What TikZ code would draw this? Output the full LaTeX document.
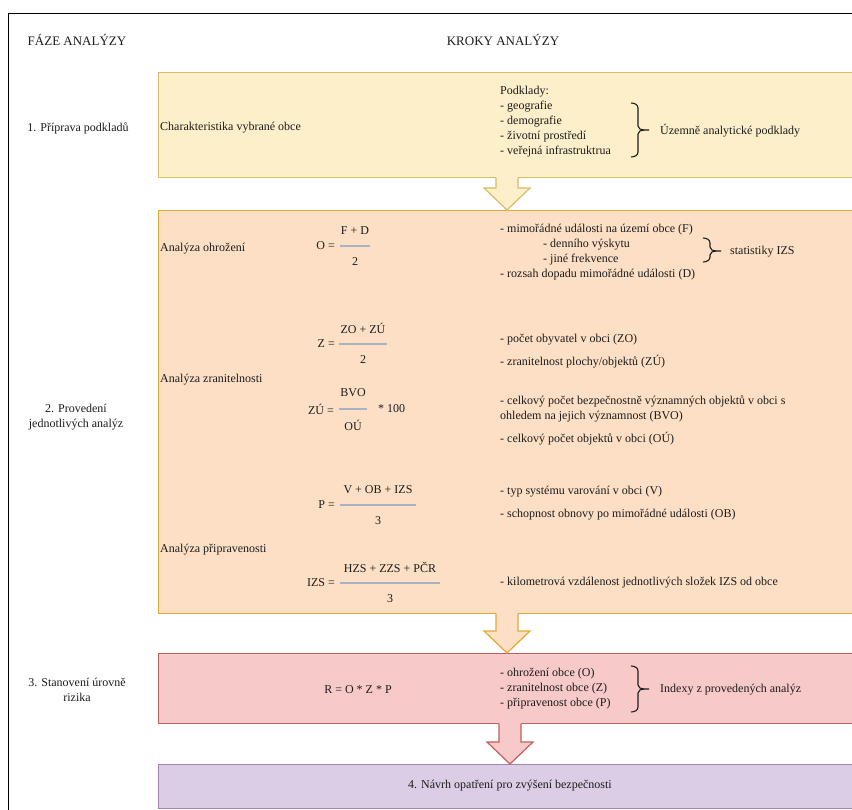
\documentclass[tikz,border=0pt]{standalone}
\usepackage{fontspec}
\setmainfont{Liberation Serif}
\usetikzlibrary{calc}
\definecolor{yfill}{HTML}{FDEFC9}
\definecolor{ydraw}{HTML}{D9BC66}
\definecolor{ofill}{HTML}{FDDFC5}
\definecolor{odraw}{HTML}{E2A935}
\definecolor{rfill}{HTML}{F7C9C8}
\definecolor{rdraw}{HTML}{C0605C}
\definecolor{pfill}{HTML}{DCCDE6}
\definecolor{pdraw}{HTML}{A384B6}
\definecolor{tcol}{HTML}{1C1C1C}
\definecolor{fline}{HTML}{A8B2C2}
\newcommand{\blockarr}[5]{%
  \fill[#1] let \p1=(#4.south), \p2=(#5.north) in
    ({#3pt-11pt},{\y1+1.5pt}) -- ({#3pt-11pt},{\y2+22pt}) -- ({#3pt-23pt},{\y2+22pt}) -- ({#3pt},{\y2}) -- ({#3pt+23pt},{\y2+22pt}) -- ({#3pt+11pt},{\y2+22pt}) -- ({#3pt+11pt},{\y1+1.5pt}) -- cycle;
  \draw[#2, line width=1.2pt] let \p1=(#4.south), \p2=(#5.north) in
    ({#3pt-11pt},{\y1+0.6pt}) -- ({#3pt-11pt},{\y2+22pt}) -- ({#3pt-23pt},{\y2+22pt}) -- ({#3pt},{\y2}) -- ({#3pt+23pt},{\y2+22pt}) -- ({#3pt+11pt},{\y2+22pt}) -- ({#3pt+11pt},{\y1+0.6pt});
}
\newcommand{\rbr}[4]{%
  \draw[brc] (#1,#2) to[out=0,in=90] (#1+7,#2+5) -- (#1+7,#3-4) to[out=-90,in=180] (#1+13,#3) -- (#1+18,#3);
  \draw[brc] (#1,#4) to[out=0,in=-90] (#1+7,#4-5) -- (#1+7,#3+4) to[out=90,in=180] (#1+13,#3);
}
\begin{document}
\begin{tikzpicture}[x=1pt,y=-1pt,
  every node/.style={font=\fontsize{12}{14.5}\selectfont, text=tcol, inner sep=0pt},
  hdr/.style={font=\fontsize{13}{15}\selectfont},
  box/.style={rectangle, line width=1.2pt, anchor=north west, minimum width=720pt},
  lft/.style={anchor=west},
  ctr/.style={align=center},
  eqn/.style={anchor=east},
  fl/.style={draw=fline, line width=1.2pt},
  brc/.style={draw=tcol, line width=1.1pt}]
\useasboundingbox (0,0) rectangle (852,810);
\clip (0,0) rectangle (852,810);
\fill[white] (0,0) rectangle (852,810);
\draw[black, line width=1pt] (8,14) rectangle (870,840);

% headers
\node[hdr] (hfaze) at (77,40) {FÁZE ANALÝZY};
\node[hdr] (hkroky) at (503,40) {KROKY ANALÝZY};

% boxes
\node[box, fill=yfill, draw=ydraw, minimum height=105pt] (yel) at (158,72) {};
\node[box, fill=ofill, draw=odraw, minimum height=403pt] (ora) at (158,210) {};
\node[box, fill=rfill, draw=rdraw, minimum height=70pt] (red) at (158,653) {};
\node[box, fill=pfill, draw=pdraw, minimum height=44pt] (pur) at (158,764) {};

% block arrows
\blockarr{yfill}{ydraw}{507}{yel}{ora}
\blockarr{ofill}{odraw}{507}{ora}{red}
\blockarr{rfill}{rdraw}{510}{red}{pur}

% phase labels
\node (ph1) at (78,128) {1. Příprava podkladů};
\node[ctr] (ph2) at (76,417) {2. Provedení\\jednotlivých analýz};
\node[ctr] (ph3) at (77,690) {3. Stanovení úrovně\\rizika};

% --- yellow box
\node[lft] (char) at (160,128) {Charakteristika vybrané obce};
\node[lft] (pk0) at (500,92) {Podklady:};
\node[lft] (pk1) at (500,107) {- geografie};
\node[lft] (pk2) at (500,122) {- demografie};
\node[lft] (pk3) at (500,137) {- životní prostředí};
\node[lft] (pk4) at (500,152) {- veřejná infrastruktrua};
\rbr{631}{103}{130}{157}
\node[lft] (uap) at (660,131) {Územně analytické podklady};

% --- orange box: ohrozeni
\node[lft] (aoh) at (160,249) {Analýza ohrožení};
\node[eqn] (oeq) at (335,246) {O =};
\node (onum) at (355,231) {F + D};
\node (oden) at (355,262) {2};
\draw[fl] (340,246) -- (370,246);
\node[lft] (of1) at (500,230) {- mimořádné události na území obce (F)};
\node[lft] (of2) at (543,245) {- denního výskytu};
\node[lft] (of3) at (543,260) {- jiné frekvence};
\node[lft] (of4) at (500,275) {- rozsah dopadu mimořádné události (D)};
\rbr{703}{238}{251}{262}
\node[lft] (sizs) at (730,252) {statistiky IZS};

% zranitelnost
\node[eqn] (zeq) at (335,344) {Z =};
\node (znum) at (363,328) {ZO + ZÚ};
\node (zden) at (363,360) {2};
\draw[fl] (339,344) -- (387,344);
\node[lft] (zl1) at (500,340) {- počet obyvatel v obci (ZO)};
\node[lft] (zl2) at (500,362) {- zranitelnost plochy/objektů (ZÚ)};
\node[lft] (azr) at (160,380) {Analýza zranitelnosti};
\node[eqn] (zueq) at (334,409) {ZÚ =};
\node (zunum) at (353,393) {BVO};
\node (zuden) at (353,425) {OÚ};
\draw[fl] (339,409) -- (367,409);
\node[lft] (zumul) at (378,409) {* 100};
\node[lft] (zl3) at (500,401) {- celkový počet bezpečnostně významných objektů v obci s};
\node[lft] (zl4) at (500,417) {ohledem na jejich významnost (BVO)};
\node[lft] (zl5) at (500,439) {- celkový počet objektů v obci (OÚ)};

% pripravenost
\node[eqn] (peq) at (335,505) {P =};
\node (pnum) at (378,490) {V + OB + IZS};
\node (pden) at (378,521) {3};
\draw[fl] (340,505) -- (416,505);
\node[lft] (pl1) at (500,492) {- typ systému varování v obci (V)};
\node[lft] (pl2) at (500,515) {- schopnost obnovy po mimořádné události (OB)};
\node[lft] (apr) at (160,550) {Analýza připravenosti};
\node[eqn] (ieq) at (335,583) {IZS =};
\node (inum) at (390,567) {HZS + ZZS + PČR};
\node (iden) at (390,599) {3};
\draw[fl] (340,583) -- (440,583);
\node[lft] (il1) at (500,583) {- kilometrová vzdálenost jednotlivých složek IZS od obce};

% --- red box
\node (rform) at (358,690) {R = O * Z * P};
\node[lft] (rl1) at (500,674) {- ohrožení obce (O)};
\node[lft] (rl2) at (500,689) {- zranitelnost obce (Z)};
\node[lft] (rl3) at (500,704) {- připravenost obce (P)};
\rbr{631}{666}{689}{712}
\node[lft] (ridx) at (660,690) {Indexy z provedených analýz};

% --- purple box
\node (nav) at (510,786) {4. Návrh opatření pro zvýšení bezpečnosti};
\end{tikzpicture}
\end{document}
